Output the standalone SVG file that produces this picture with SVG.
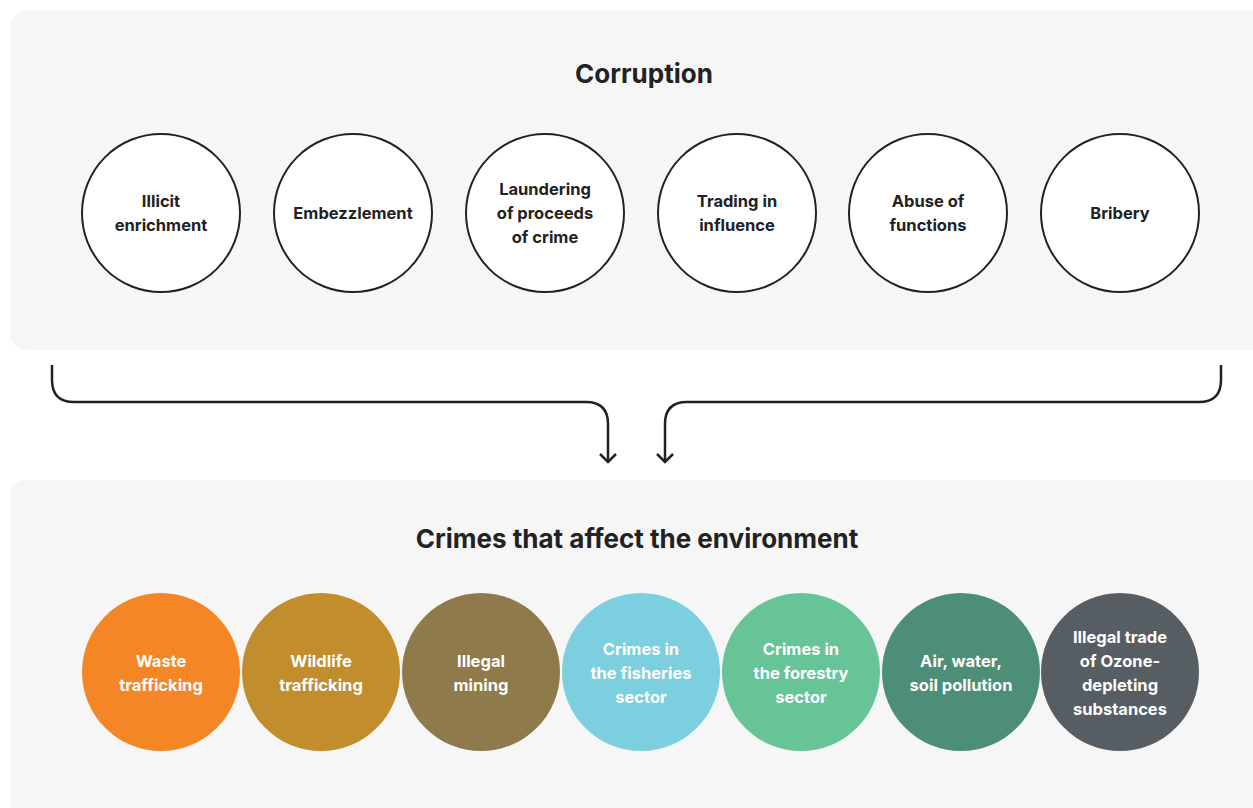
<svg xmlns="http://www.w3.org/2000/svg" width="1253" height="808" viewBox="0 0 1253 808">
<style>
.panel{fill:#f6f6f6}
.title{font-family:Inter,"Liberation Sans",sans-serif;font-weight:700;font-size:26px;fill:#222;text-anchor:middle}
.oc{fill:#fff;stroke:#222;stroke-width:2}
.lbl{font-family:Inter,"Liberation Sans",sans-serif;font-weight:700;font-size:16.5px;text-anchor:middle}
.dark{fill:#222}
.light{fill:#fff}
.conn{fill:none;stroke:#222;stroke-width:2.5}
</style>
<defs>
<marker id="arr" viewBox="0 0 20 20" refX="18" refY="10" markerWidth="20" markerHeight="20" markerUnits="userSpaceOnUse" orient="auto">
<path d="M10,2 L18,10 L10,18" fill="none" stroke="#222" stroke-width="2.5"/>
</marker>
</defs>
<rect class="panel" x="10" y="11" width="1270" height="339" rx="16"/>
<rect class="panel" x="10" y="480" width="1270" height="360" rx="16"/>
<text class="title" x="644" y="83">Corruption</text>
<text class="title" x="637" y="548">Crimes that affect the environment</text>

<g id="n-illicit"><circle class="oc" cx="161" cy="213" r="79"/><text class="lbl dark" x="161" y="207">Illicit</text><text class="lbl dark" x="161" y="231">enrichment</text></g>
<g id="n-embezzlement"><circle class="oc" cx="353" cy="213" r="79"/><text class="lbl dark" x="353" y="219">Embezzlement</text></g>
<g id="n-laundering"><circle class="oc" cx="545" cy="213" r="79"/><text class="lbl dark" x="545" y="195">Laundering</text><text class="lbl dark" x="545" y="219">of proceeds</text><text class="lbl dark" x="545" y="243">of crime</text></g>
<g id="n-trading"><circle class="oc" cx="737" cy="213" r="79"/><text class="lbl dark" x="737" y="207">Trading in</text><text class="lbl dark" x="737" y="231">influence</text></g>
<g id="n-abuse"><circle class="oc" cx="928" cy="213" r="79"/><text class="lbl dark" x="928" y="207">Abuse of</text><text class="lbl dark" x="928" y="231">functions</text></g>
<g id="n-bribery"><circle class="oc" cx="1120" cy="213" r="79"/><text class="lbl dark" x="1120" y="219">Bribery</text></g>

<g id="connectors">
<path class="conn" d="M52,365 V380 Q52,402 74,402 H586 Q608,402 608,424 V462" marker-end="url(#arr)"/>
<path class="conn" d="M1221,365 V380 Q1221,402 1199,402 H687 Q665,402 665,424 V462" marker-end="url(#arr)"/>
</g>

<g id="n-waste"><circle cx="161" cy="672" r="79" fill="#f58626"/><text class="lbl light" x="161" y="667">Waste</text><text class="lbl light" x="161" y="691">trafficking</text></g>
<g id="n-wildlife"><circle cx="321" cy="672" r="79" fill="#c28d2c"/><text class="lbl light" x="321" y="667">Wildlife</text><text class="lbl light" x="321" y="691">trafficking</text></g>
<g id="n-mining"><circle cx="481" cy="672" r="79" fill="#8f7a4b"/><text class="lbl light" x="481" y="667">Illegal</text><text class="lbl light" x="481" y="691">mining</text></g>
<g id="n-fisheries"><circle cx="641" cy="672" r="79" fill="#7bcfdf"/><text class="lbl light" x="641" y="655">Crimes in</text><text class="lbl light" x="641" y="679">the fisheries</text><text class="lbl light" x="641" y="703">sector</text></g>
<g id="n-forestry"><circle cx="801" cy="672" r="79" fill="#67c497"/><text class="lbl light" x="801" y="655">Crimes in</text><text class="lbl light" x="801" y="679">the forestry</text><text class="lbl light" x="801" y="703">sector</text></g>
<g id="n-pollution"><circle cx="961" cy="672" r="79" fill="#4d8e78"/><text class="lbl light" x="961" y="667">Air, water,</text><text class="lbl light" x="961" y="691">soil pollution</text></g>
<g id="n-ozone"><circle cx="1120" cy="672" r="79" fill="#565e64"/><text class="lbl light" x="1120" y="643">Illegal trade</text><text class="lbl light" x="1120" y="667">of Ozone-</text><text class="lbl light" x="1120" y="691">depleting</text><text class="lbl light" x="1120" y="715">substances</text></g>
</svg>
